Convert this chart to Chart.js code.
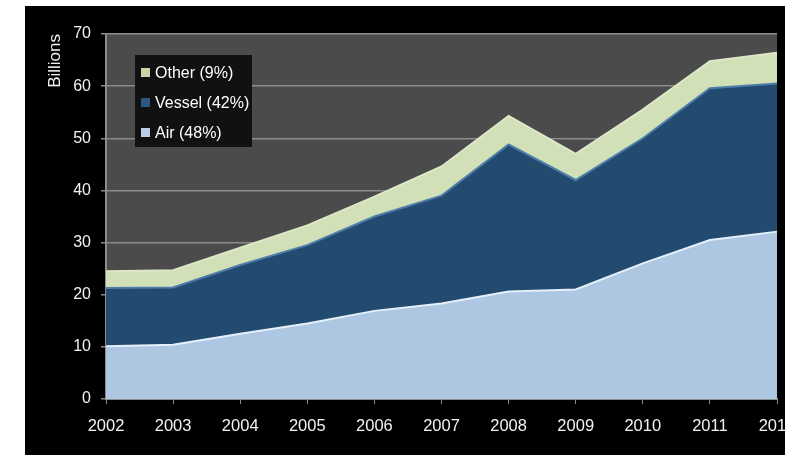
<!DOCTYPE html>
<html>
<head>
<meta charset="utf-8">
<script src="https://cdn.jsdelivr.net/npm/chart.js@4"></script>
<style>
    html, body { margin: 0; padding: 0; background: #ffffff; overflow: hidden; width: 785px; height: 456px; }
    #frame { position: absolute; left: 25px; top: 6px; width: 800px; height: 449px; background: #000000; }
</style>
</head>
<body>
<div id="frame"><canvas id="areaChart" width="800" height="449"></canvas></div>
<script>
const years = ["2002", "2003", "2004", "2005", "2006", "2007", "2008", "2009", "2010", "2011", "2012"];
const airValues = [10.1, 10.4, 12.5, 14.5, 16.9, 18.3, 20.6, 21.0, 26.0, 30.5, 32.1];
const vesselValues = [11.2, 11.0, 13.2, 15.0, 18.1, 20.7, 28.2, 21.0, 24.0, 29.1, 28.4];
const otherValues = [3.2, 3.3, 3.3, 3.8, 3.8, 5.6, 5.5, 5.0, 5.5, 5.2, 5.9];
const seriesLabels = ["Air (48%)", "Vessel (42%)", "Other (9%)"];

// plot background + legend box drawn inside the chart area
const plotBackground = {
    id: "plotBackground",
    beforeDraw(chart) {
        const { ctx, chartArea } = chart;
        ctx.save();
        ctx.fillStyle = "#4b4b4b";
        ctx.fillRect(chartArea.left, chartArea.top, chartArea.right - chartArea.left, chartArea.bottom - chartArea.top);
        ctx.restore();
    }
};

const insideLegend = {
    id: "insideLegend",
    afterDraw(chart) {
        const ctx = chart.ctx;
        const x = 110, y = 49;
        ctx.save();
        ctx.fillStyle = "#111111";
        ctx.fillRect(x, y, 117, 92);
        ctx.font = "16px 'Liberation Sans', Arial, sans-serif";
        ctx.textBaseline = "middle";
        const sets = chart.data.datasets.slice().reverse();
        sets.forEach((ds, i) => {
            const cy = y + 19 + i * 30;
            ctx.fillStyle = ds.legendColor;
            ctx.fillRect(x + 6, cy - 6, 9, 9);
            ctx.fillStyle = "#ffffff";
            ctx.fillText(ds.label, x + 20, cy);
        });
        ctx.restore();
    }
};

const ctx = document.getElementById("areaChart").getContext("2d");
new Chart(ctx, {
    type: "line",
    data: {
        labels: years,
        datasets: [
            {
                label: seriesLabels[0],
                data: airValues,
                fill: "origin",
                backgroundColor: "#adc7e3",
                borderColor: "#e6f0fa",
                legendColor: "#b9cfe6",
                borderWidth: 2,
                pointRadius: 0
            },
            {
                label: seriesLabels[1],
                data: vesselValues,
                fill: "-1",
                backgroundColor: "#234b6f",
                borderColor: "#4d7cab",
                legendColor: "#2c5782",
                borderWidth: 2,
                pointRadius: 0
            },
            {
                label: seriesLabels[2],
                data: otherValues,
                fill: "-1",
                backgroundColor: "#d2e0b8",
                borderColor: "#dde8c8",
                legendColor: "#c6d6a6",
                borderWidth: 2,
                pointRadius: 0
            }
        ]
    },
    options: {
        responsive: false,
        animation: false,
        layout: { padding: { top: 28, right: 48, left: 0, bottom: 0 } },
        plugins: {
            legend: { display: false },
            tooltip: { enabled: false }
        },
        elements: { line: { tension: 0 } },
        scales: {
            x: {
                offset: false,
                grid: { display: true, drawOnChartArea: false, color: "#8c8c8c", tickLength: 5 },
                border: { color: "#8c8c8c", width: 2 },
                ticks: {
                    color: "#f2f2f2",
                    font: { family: "'Liberation Sans', Arial, sans-serif", size: 16.5 },
                    padding: 13,
                    maxRotation: 0,
                    autoSkip: false
                },
                afterFit(scale) { scale.height = 56; }
            },
            y: {
                stacked: true,
                min: 0,
                max: 70,
                grid: { color: "#8c8c8c", lineWidth: 1.5, tickLength: 5 },
                border: { color: "#8c8c8c", width: 2 },
                ticks: {
                    stepSize: 10,
                    color: "#f2f2f2",
                    font: { family: "'Liberation Sans', Arial, sans-serif", size: 16 },
                    padding: 10
                },
                title: {
                    display: true,
                    text: "Billions",
                    align: "end",
                    color: "#f2f2f2",
                    font: { family: "'Liberation Sans', Arial, sans-serif", size: 17 },
                    padding: { top: 20, bottom: 0 }
                },
                afterFit(scale) { scale.width = 81; }
            }
        }
    },
    plugins: [plotBackground, insideLegend]
});
</script>
</body>
</html>
